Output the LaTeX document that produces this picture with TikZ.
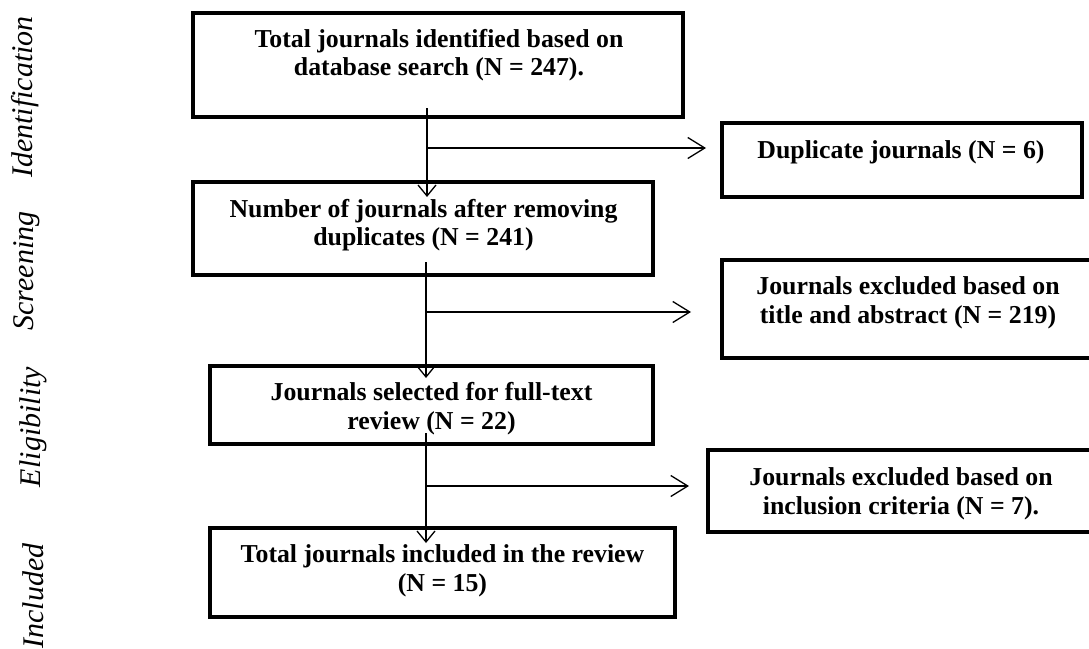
\documentclass[tikz,border=0pt]{standalone}
\usepackage{fontspec}
\setmainfont{Liberation Serif}
\usetikzlibrary{arrows.meta}
\tikzset{
  box/.style={draw, line width=4pt, rectangle, inner sep=0pt},
  txt/.style={font=\fontsize{25.8}{28.5}\selectfont\bfseries, align=center, inner sep=0pt},
  phase/.style={font=\fontsize{30}{34}\selectfont\itshape, rotate=90, inner sep=0pt, anchor=base},
  varr/.style={line width=1.3pt, -{Straight Barb[length=11pt,width=18pt,line width=1.3pt]}},
  harr/.style={line width=1.3pt, -{Straight Barb[length=17pt,width=21pt,line width=1.3pt]}},
}
\begin{document}
\begin{tikzpicture}[x=1pt,y=-1pt]
\useasboundingbox (0,0) rectangle (1089,648);
\clip (0,0) rectangle (1089,648);
% phase labels
\node[phase] (pI) at (32,97) {Identification};
\node[phase] (pS) at (33,271) {Screening};
\node[phase] (pE) at (40,427) {Eligibility};
\node[phase] (pN) at (43,596) {Included};
% main boxes
\node[box, minimum width=490pt, minimum height=104pt] (b1) at (438,65) {};
\node[txt] (t1) at (439,55) {Total journals identified based on\\database search (N = 247).};
\node[box, minimum width=460pt, minimum height=93pt] (b2) at (423,228.5) {};
\node[txt] (t2) at (423.5,225) {Number of journals after removing\\duplicates (N = 241)};
\node[box, minimum width=443pt, minimum height=78pt] (b3) at (431.5,405) {};
\node[txt] (t3) at (431.5,408.5) {Journals selected for full-text\\review (N = 22)};
\node[box, minimum width=465pt, minimum height=89pt] (b4) at (442.5,572.5) {};
\node[txt] (t4) at (442.5,571) {Total journals included in the review\\(N = 15)};
% side boxes
\node[box, minimum width=360pt, minimum height=74pt] (bA) at (902,160) {};
\node[txt] (tA) at (901,152) {Duplicate journals (N = 6)};
\node[box, minimum width=390pt, minimum height=98pt] (bB) at (917,309) {};
\node[txt] (tB) at (908,303) {Journals excluded based on\\title and abstract (N = 219)};
\node[box, minimum width=400pt, minimum height=82pt] (bC) at (908,491) {};
\node[txt] (tC) at (901,494) {Journals excluded based on\\inclusion criteria (N = 7).};
% connector points
\coordinate (s1) at (427,108);
\coordinate (e1) at (427,197);
\coordinate (j1) at (427,148);
\coordinate (s2) at (426,262);
\coordinate (e2) at (426,378);
\coordinate (j2) at (426,312);
\coordinate (s3) at (426,433);
\coordinate (e3) at (426,543);
\coordinate (j3) at (426,486);
% connectors
\draw[varr] (s1) -- (e1);
\draw[harr, shorten >=14pt] (j1) -- (j1 -| bA.west);
\draw[varr] (s2) -- (e2);
\draw[harr, shorten >=29pt] (j2) -- (j2 -| bB.west);
\draw[varr] (s3) -- (e3);
\draw[harr, shorten >=17pt] (j3) -- (j3 -| bC.west);
\end{tikzpicture}
\end{document}
